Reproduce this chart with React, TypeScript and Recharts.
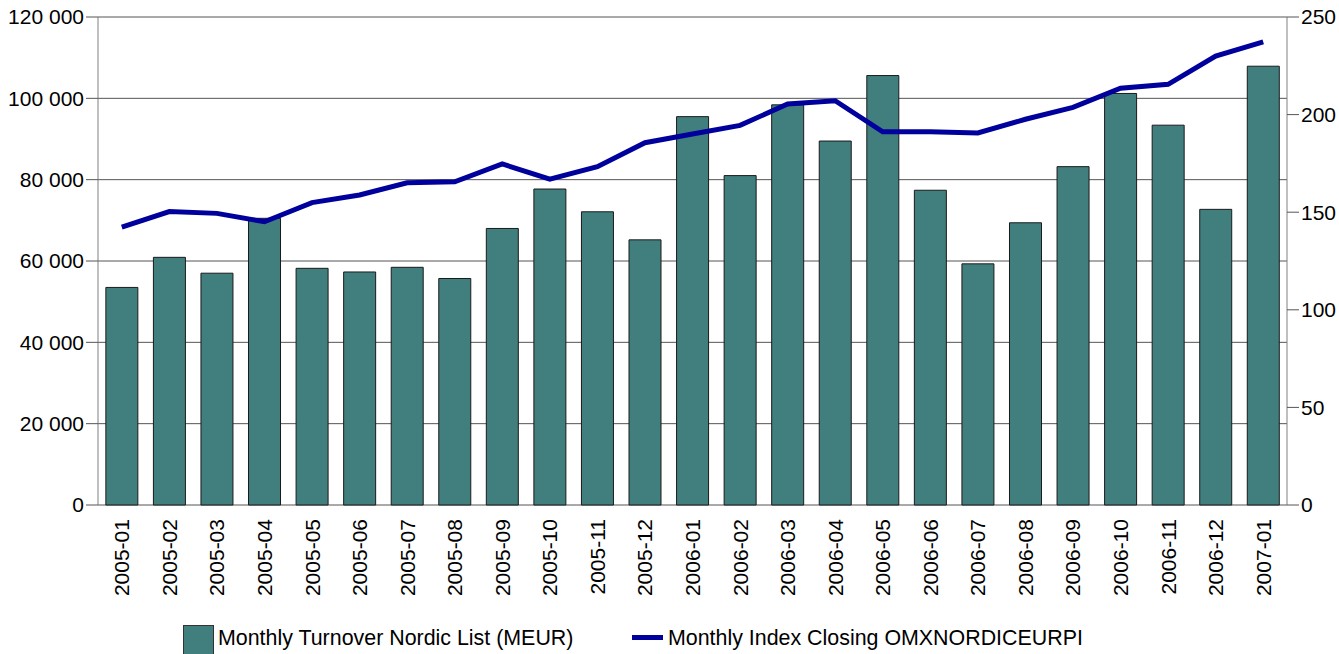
import React from "react";
import { ComposedChart, Bar, Line, XAxis, YAxis, CartesianGrid, Legend } from "recharts";

const months = [
  "2005-01", "2005-02", "2005-03", "2005-04", "2005-05", "2005-06", "2005-07", "2005-08", "2005-09",
  "2005-10", "2005-11", "2005-12", "2006-01", "2006-02", "2006-03", "2006-04", "2006-05", "2006-06",
  "2006-07", "2006-08", "2006-09", "2006-10", "2006-11", "2006-12", "2007-01",
];
const turnover = [
  53500, 60900, 57000, 70500, 58200, 57300, 58450, 55700, 68000,
  77700, 72100, 65200, 95500, 81000, 98400, 89500, 105600, 77400,
  59300, 69400, 83200, 101200, 93400, 72700, 107900,
];
const indexClose = [
  142.3, 150.3, 149.4, 145.1, 154.9, 158.8, 165.1, 165.6, 174.7,
  166.9, 173.3, 185.6, 190.1, 194.5, 205.4, 207.1, 191.2, 191.2,
  190.6, 197.6, 203.7, 213.5, 215.5, 230.0, 237.3,
];
const leftTicks = [0, 20000, 40000, 60000, 80000, 100000, 120000];
const rightTicks = [0, 50, 100, 150, 200, 250];
const edgeTicks = Array.from({ length: months.length + 1 }, (_, i) => i);

const barName = "Monthly Turnover Nordic List (MEUR)";
const lineName = "Monthly Index Closing OMXNORDICEURPI";

const data = months.map((m, i) => ({ month: m, turnover: turnover[i], index: indexClose[i] }));

const FONT = "'Liberation Sans', Arial, sans-serif";
const BAR_COLOR = "#417F7F";
const LINE_COLOR = "#00009C";
const GRID = "#555555";

const fmt = (v: number) => String(v).replace(/\B(?=(\d{3})+(?!\d))/g, " ");

const CatTick = (props: any) => {
  const { x, y, payload } = props;
  return (
    <text
      x={x}
      y={y}
      transform={`rotate(-90, ${x}, ${y})`}
      textAnchor="end"
      dominantBaseline="central"
      fontSize={21}
      fontFamily={FONT}
      fill="#000"
    >
      {payload.value}
    </text>
  );
};

const EmptyTick = () => <g />;

const LegendContent = () => (
  <div
    style={{
      height: 40,
      width: 1339,
      position: "relative",
      fontFamily: FONT,
      fontSize: 21.4,
      color: "#000",
    }}
  >
    <div style={{ position: "absolute", left: 183, top: 11, width: 29, height: 30, background: BAR_COLOR, border: "1px solid #333" }} />
    <span style={{ position: "absolute", left: 218, top: 11, lineHeight: "26px", whiteSpace: "nowrap" }}>{barName}</span>
    <div style={{ position: "absolute", left: 632, top: 21, width: 31, height: 5, background: LINE_COLOR }} />
    <span style={{ position: "absolute", left: 668, top: 11, lineHeight: "26px", whiteSpace: "nowrap" }}>{lineName}</span>
  </div>
);

export default function App() {
  return (
    <div style={{ position: "absolute", left: 0, top: 0, background: "#fff" }}>
      <ComposedChart
        width={1339}
        height={654}
        data={data}
        margin={{ top: 17, right: 0, bottom: 0, left: 0 }}
        barCategoryGap="16.5%"
      >
        <CartesianGrid yAxisId="left" vertical={false} stroke={GRID} strokeWidth={1} />
        <XAxis
          xAxisId="edges"
          type="number"
          domain={[0, months.length]}
          ticks={edgeTicks}
          allowDataOverflow
          height={0}
          tick={EmptyTick}
          tickSize={12}
          tickLine={{ stroke: GRID }}
          axisLine={{ stroke: GRID }}
        />
        <XAxis
          xAxisId="cat"
          dataKey="month"
          height={109}
          tickLine={false}
          axisLine={false}
          tickSize={12}
          tickMargin={2}
          interval={0}
          tick={CatTick}
        />
        <YAxis
          yAxisId="left"
          width={98}
          domain={[0, 120000]}
          ticks={leftTicks}
          tickFormatter={fmt}
          tickSize={12}
          tickMargin={2}
          tick={{ fill: "#000", fontSize: 21, fontFamily: FONT }}
          tickLine={{ stroke: GRID }}
          axisLine={{ stroke: "#808080" }}
        />
        <YAxis
          yAxisId="right"
          orientation="right"
          width={52}
          domain={[0, 250]}
          ticks={rightTicks}
          tickSize={12}
          tickMargin={2}
          tick={{ fill: "#000", fontSize: 21, fontFamily: FONT }}
          tickLine={{ stroke: GRID }}
          axisLine={{ stroke: "#808080" }}
        />
        <Legend verticalAlign="bottom" height={40} content={LegendContent} />
        <Bar
          xAxisId="cat"
          yAxisId="left"
          dataKey="turnover"
          name={barName}
          fill={BAR_COLOR}
          stroke="#1a1a1a"
          strokeWidth={1}
          isAnimationActive={false}
        />
        <Line
          xAxisId="cat"
          yAxisId="right"
          dataKey="index"
          name={lineName}
          type="linear"
          stroke={LINE_COLOR}
          strokeWidth={5}
          dot={false}
          activeDot={false}
          isAnimationActive={false}
        />
      </ComposedChart>
    </div>
  );
}
